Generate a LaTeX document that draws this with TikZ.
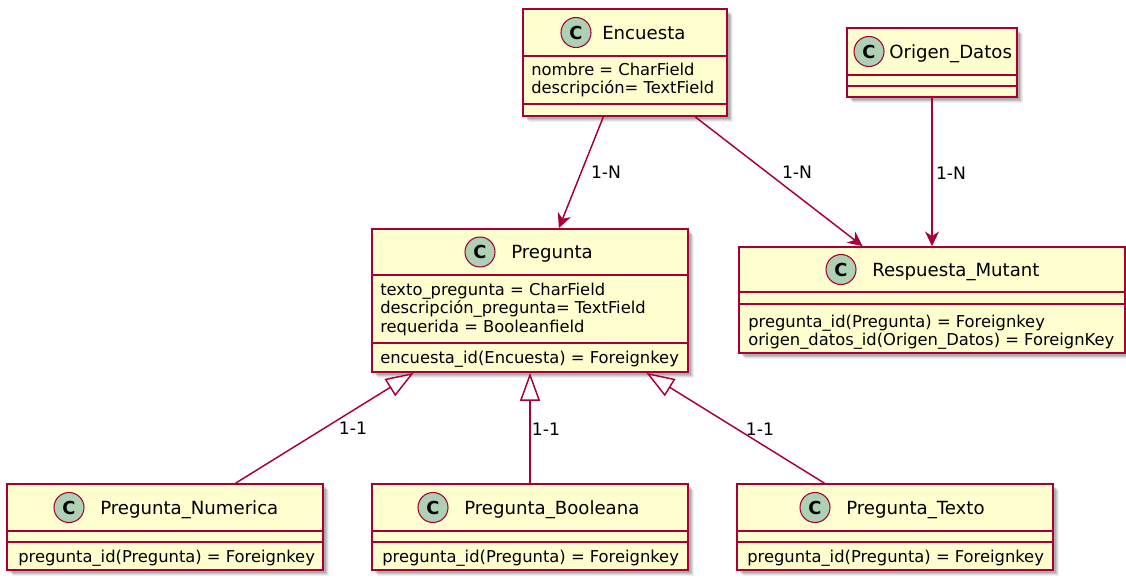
\documentclass[tikz,border=0pt]{standalone}
\usepackage{fontspec}
\setmainfont{DejaVu Sans}
\usetikzlibrary{arrows.meta,fit}
\definecolor{umlfill}{HTML}{FEFECE}
\definecolor{umlline}{HTML}{A80036}
\definecolor{umlicon}{HTML}{ADD1B2}
% soft drop shadow behind a class box: corners (x1,y1) (x2,y2)
\newcommand\boxshadow[4]{%
  \foreach \d/\o in {6/0.06,5/0.08,4/0.10,3/0.12}
    \fill[black,opacity=\o] (#1+\d,#2+\d) rectangle (#3+\d,#4+\d);}
\tikzset{
  cbox/.style={draw=umlline, fill=umlfill, line width=1.3pt, inner sep=0pt},
  csep/.style={draw=umlline, line width=1.1pt},
  cicon/.style={circle, draw=umlline, fill=umlicon, line width=0.8pt,
    minimum size=22.5pt, inner sep=0pt,
    font=\fontsize{13.4}{14}\selectfont\bfseries},
  cname/.style={anchor=base west, inner sep=0pt, font=\fontsize{13.6}{15}\selectfont},
  cattr/.style={anchor=base west, inner sep=0pt, font=\fontsize{12.25}{14}\selectfont},
  lbl/.style={inner sep=0pt, font=\fontsize{12.9}{14}\selectfont},
  assoc/.style={draw=umlline, line width=1.1pt,
    -{Stealth[length=11pt,width=10.5pt,inset=3.5pt]}},
  inherit/.style={draw=umlline, line width=1.1pt,
    -{Triangle[open,length=21pt,width=15pt,fill=white]}},
}
\begin{document}
\begin{tikzpicture}[x=0.75pt,y=-0.75pt]
\useasboundingbox (0,0) rectangle (1126,578);

% shadows
\boxshadow{523}{9}{727}{116}
\boxshadow{847}{28}{1017}{97}
\boxshadow{372}{229}{688}{372}
\boxshadow{739}{247}{1125}{353}
\boxshadow{7}{484}{323}{570}
\boxshadow{372}{484}{688}{570}
\boxshadow{737}{484}{1053}{570}

% Encuesta
\node[cbox, fit={(523,9)(727,116)}] (enc) {};
\draw[csep] (523,56) -- (727,56);
\draw[csep] (523,104) -- (727,104);
\node[cicon] (enc-c) at (576,32.5) {C};
\node[cname] (enc-n) at (602,39) {Encuesta};
\node[cattr] (enc-a1) at (531,75) {nombre = CharField};
\node[cattr] (enc-a2) at (531,93) {descripción= TextField};

% Origen_Datos
\node[cbox, fit={(847,28)(1017,97)}] (orig) {};
\draw[csep] (847,75) -- (1017,75);
\draw[csep] (847,86) -- (1017,86);
\node[cicon] (orig-c) at (869,51.5) {C};
\node[cname] (orig-n) at (889,58) {Origen\_Datos};

% Pregunta
\node[cbox, fit={(372,229)(688,372)}] (preg) {};
\draw[csep] (372,275) -- (688,275);
\draw[csep] (372,343) -- (688,343);
\node[cicon] (preg-c) at (480,252) {C};
\node[cname] (preg-n) at (511,258.5) {Pregunta};
\node[cattr] (preg-a1) at (380,295) {texto\_pregunta = CharField};
\node[cattr] (preg-a2) at (380,313) {descripción\_pregunta= TextField};
\node[cattr] (preg-a3) at (380,332) {requerida = Booleanfield};
\node[cattr] (preg-m1) at (380,363) {encuesta\_id(Encuesta) = Foreignkey};

% Respuesta_Mutant
\node[cbox, fit={(739,247)(1125,353)}] (resp) {};
\draw[csep] (739,292) -- (1125,292);
\draw[csep] (739,304) -- (1125,304);
\node[cicon] (resp-c) at (841,269.5) {C};
\node[cname] (resp-n) at (872,276) {Respuesta\_Mutant};
\node[cattr] (resp-m1) at (748,327) {pregunta\_id(Pregunta) = Foreignkey};
\node[cattr] (resp-m2) at (748,345) {origen\_datos\_id(Origen\_Datos) = ForeignKey};

% Pregunta_Numerica
\node[cbox, fit={(7,484)(323,570)}] (pnum) {};
\draw[csep] (7,531) -- (323,531);
\draw[csep] (7,542) -- (323,542);
\node[cicon] (pnum-c) at (69,507.5) {C};
\node[cname] (pnum-n) at (100,514) {Pregunta\_Numerica};
\node[cattr] (pnum-m1) at (18,562) {pregunta\_id(Pregunta) = Foreignkey};

% Pregunta_Booleana
\node[cbox, fit={(372,484)(688,570)}] (pbool) {};
\draw[csep] (372,531) -- (688,531);
\draw[csep] (372,542) -- (688,542);
\node[cicon] (pbool-c) at (433,507.5) {C};
\node[cname] (pbool-n) at (464,514) {Pregunta\_Booleana};
\node[cattr] (pbool-m1) at (382,562) {pregunta\_id(Pregunta) = Foreignkey};

% Pregunta_Texto
\node[cbox, fit={(737,484)(1053,570)}] (ptext) {};
\draw[csep] (737,531) -- (1053,531);
\draw[csep] (737,542) -- (1053,542);
\node[cicon] (ptext-c) at (815,507.5) {C};
\node[cname] (ptext-n) at (846,514) {Pregunta\_Texto};
\node[cattr] (ptext-m1) at (747,562) {pregunta\_id(Pregunta) = Foreignkey};

% relations
\draw[assoc] (enc) -- (preg);
\draw[assoc] (enc) -- (resp);
\draw[assoc] (orig) -- (resp);
\draw[inherit] (pnum) -- (preg);
\draw[inherit] (pbool) -- (preg);
\draw[inherit] (ptext) -- (preg);

% multiplicity labels
\node[lbl] (l-ep) at (606,172) {1-N};
\node[lbl] (l-er) at (797,172) {1-N};
\node[lbl] (l-or) at (951,173) {1-N};
\node[lbl] (l-np) at (353,428) {1-1};
\node[lbl] (l-bp) at (546,429) {1-1};
\node[lbl] (l-tp) at (760,429) {1-1};
\end{tikzpicture}
\end{document}
